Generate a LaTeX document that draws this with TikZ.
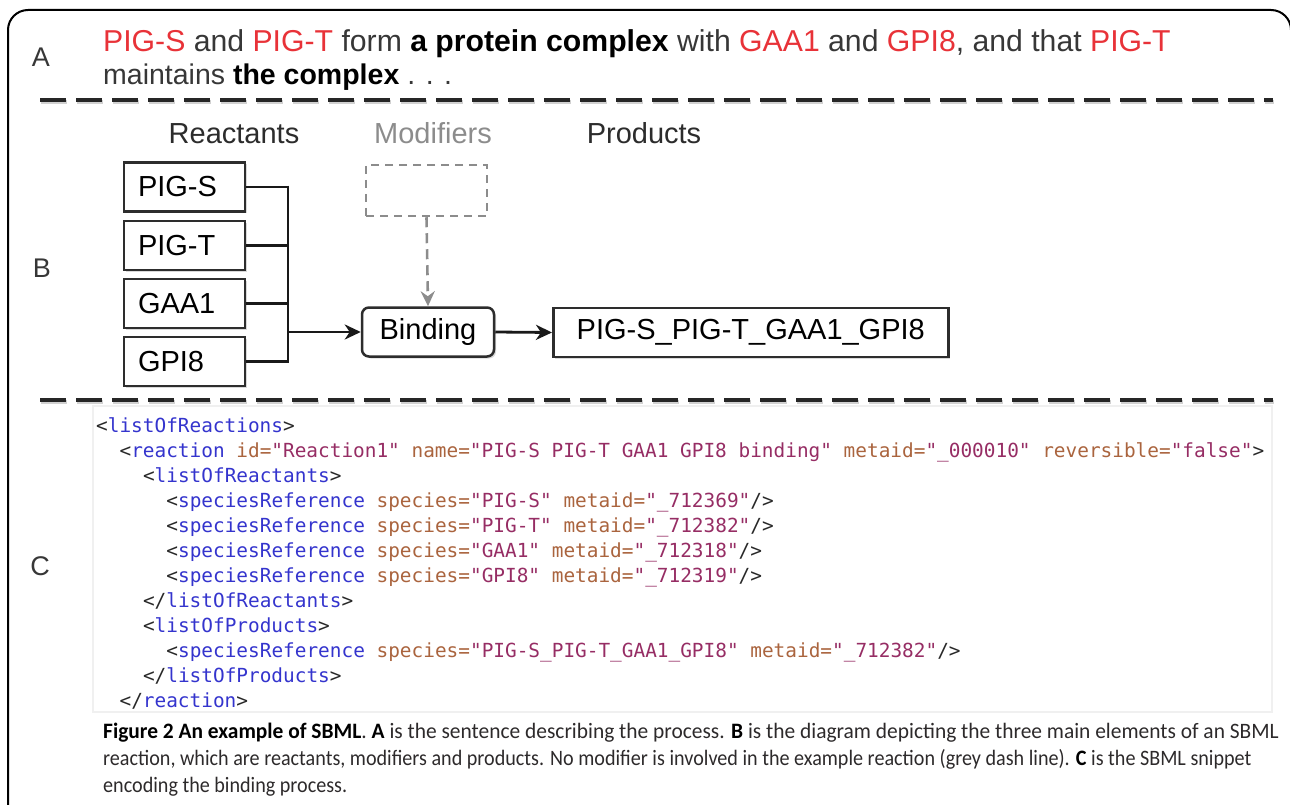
\documentclass[tikz,border=0pt]{standalone}
\usepackage{fontspec}
\setmainfont{Liberation Sans}
\newfontfamily\codefont{DejaVu Sans Mono}
\newfontfamily\capfont{Carlito}
\usetikzlibrary{arrows.meta,shadows}

\definecolor{pred}{RGB}{232,50,56}
\definecolor{ptext}{RGB}{55,55,55}
\definecolor{xtagc}{RGB}{52,52,205}
\definecolor{xattc}{RGB}{170,100,62}
\definecolor{xvalc}{RGB}{150,45,100}
\definecolor{xbrc}{RGB}{40,40,40}
\definecolor{capc}{RGB}{45,42,43}
\definecolor{boxc}{RGB}{45,45,45}
\definecolor{modc}{RGB}{140,140,140}

\newcommand\xmlT[1]{\textcolor{xtagc}{#1}}
\newcommand\xmlA[1]{\textcolor{xattc}{#1}}
\newcommand\xmlV[1]{\textcolor{xvalc}{#1}}
\newcommand\xmlB[1]{\textcolor{xbrc}{#1}}
\newcommand\pname[1]{\textcolor{pred}{#1}}
\newcommand\bk[1]{\textcolor{black}{\bfseries #1}}
\newcommand\cb[1]{\textcolor{black}{\bfseries #1}}

\tikzset{
  sep/.style={line width=4pt, draw=black!85, dash pattern=on 26pt off 10pt},
  sepshadow/.style={line width=4pt, draw=black, opacity=0.18, dash pattern=on 26pt off 10pt},
  frame/.style={line width=2pt, draw=black, rounded corners=20pt},
  lbl/.style={font=\fontsize{27}{32}\selectfont, text=ptext},
  head/.style={font=\fontsize{29}{34}\selectfont, anchor=base},
  sbox/.style={draw=boxc, line width=2.5pt, fill=white, font=\fontsize{29}{34}\selectfont,
     minimum height=49pt, inner xsep=14pt, align=left,
     drop shadow={shadow xshift=2pt, shadow yshift=-2pt, opacity=0.3}},
  rbox/.style={sbox, text width=93pt},
  modbox/.style={draw=modc, line width=2.5pt, dash pattern=on 8pt off 6pt,
     minimum width=121pt, minimum height=51pt},
  conn/.style={line width=2.8pt, draw=black!90},
  arr/.style={conn, -{Stealth[length=16pt,width=15pt,inset=5pt]}},
  modarr/.style={line width=2.6pt, draw=modc, dash pattern=on 10pt off 6pt,
     -{Stealth[length=15pt,width=14pt,inset=5pt]}},
  code/.style={font=\codefont\fontsize{19.4}{25}\selectfont, anchor=base west, inner sep=0pt},
  captext/.style={font=\capfont\fontsize{22}{27}\selectfont, text=capc, anchor=base west, inner sep=0pt},
}

\begin{document}
\begin{tikzpicture}[x=1pt,y=-1pt]
\useasboundingbox (0,0) rectangle (1290,805);
\clip (0,0) rectangle (1290,805);

% outer frame
\draw[frame] (8,810) -- (8,10) -- (1291,10) -- (1291,810);

% ---------- A ----------
\node[lbl] (labA) at (41,57) {A};
\node[anchor=base west, inner sep=0pt, font=\fontsize{30.2}{34}\selectfont, text=ptext] (aline1) at (103,52)
  {\pname{PIG-S} and \pname{PIG-T} form \bk{a protein complex} with \pname{GAA1} and \pname{GPI8}, and that \pname{PIG-T}};
\node[anchor=base west, inner sep=0pt, font=\fontsize{28.5}{34}\selectfont, text=ptext] (aline2) at (103,85)
  {maintains \bk{the complex} . . .};

% separators
\coordinate (s1a) at (40,100); \coordinate (s1b) at (1273,100);
\coordinate (s2a) at (40,400); \coordinate (s2b) at (1273,400);
\draw[sepshadow] ([shift={(1pt,-2pt)}]s1a) -- ([shift={(1pt,-2pt)}]s1b);
\draw[sep] (s1a) -- (s1b);
\draw[sepshadow] ([shift={(1pt,-2pt)}]s2a) -- ([shift={(1pt,-2pt)}]s2b);
\draw[sep] (s2a) -- (s2b);

% ---------- B ----------
\node[lbl] (labB) at (42,268) {B};
\node[head, text=ptext!80!black] (hR) at (234,144) {Reactants};
\node[head, text=modc] (hM) at (433,144) {Modifiers};
\node[head, text=ptext!80!black] (hP) at (644,144) {Products};

\node[rbox] (rS) at (184.5,187) {PIG-S};
\node[rbox] (rT) at (184.5,245.5) {PIG-T};
\node[rbox] (rA) at (184.5,303.5) {GAA1};
\node[rbox] (rG) at (184.5,361.5) {GPI8};

\node[sbox, rounded corners=7pt, minimum width=132pt, inner xsep=6pt, align=center] (bind) at (428,332) {Binding};
\node[modbox] (mod) at (426.5,190.5) {};
\node[sbox, minimum width=395pt, inner xsep=13pt, anchor=west] (prod) at (552,332.5) {PIG-S\_PIG-T\_GAA1\_GPI8};

\coordinate (bus) at (288,332);
\draw[conn] (rS.east) -- (rS.east -| bus);
\draw[conn] (rT.east) -- (rT.east -| bus);
\draw[conn] (rA.east) -- (rA.east -| bus);
\draw[conn] (rG.east) -- (rG.east -| bus);
\draw[conn] ([yshift=1.4pt]rS.east -| bus) -- ([yshift=-1.4pt]rG.east -| bus);
\draw[arr] (bus |- bind.west) -- (bind.west);
\draw[arr] (bind.east) -- (prod.west);
\draw[modarr] (mod.south) -- (bind.north);

% ---------- C ----------
\node[lbl] (labC) at (40,566) {C};
\draw[draw=black!6, line width=1.5pt] (93,406) rectangle (1272,712);

\node[code] (c1) at (96,432) {\xmlB{<}\xmlT{listOfReactions}\xmlB{>}};
\node[code] (c2) at (119.4,457) {\xmlB{<}\xmlT{reaction} \xmlA{id=}\xmlV{"Reaction1"} \xmlA{name=}\xmlV{"PIG-S PIG-T GAA1 GPI8 binding"} \xmlA{metaid=}\xmlV{"\_000010"} \xmlA{reversible=}\xmlV{"false"}\xmlB{>}};
\node[code] (c3) at (142.8,482) {\xmlB{<}\xmlT{listOfReactants}\xmlB{>}};
\node[code] (c4) at (166.2,507) {\xmlB{<}\xmlT{speciesReference} \xmlA{species=}\xmlV{"PIG-S"} \xmlA{metaid=}\xmlV{"\_712369"}\xmlB{/>}};
\node[code] (c5) at (166.2,532) {\xmlB{<}\xmlT{speciesReference} \xmlA{species=}\xmlV{"PIG-T"} \xmlA{metaid=}\xmlV{"\_712382"}\xmlB{/>}};
\node[code] (c6) at (166.2,557) {\xmlB{<}\xmlT{speciesReference} \xmlA{species=}\xmlV{"GAA1"} \xmlA{metaid=}\xmlV{"\_712318"}\xmlB{/>}};
\node[code] (c7) at (166.2,582) {\xmlB{<}\xmlT{speciesReference} \xmlA{species=}\xmlV{"GPI8"} \xmlA{metaid=}\xmlV{"\_712319"}\xmlB{/>}};
\node[code] (c8) at (142.8,607) {\xmlB{</}\xmlT{listOfReactants}\xmlB{>}};
\node[code] (c9) at (142.8,632) {\xmlB{<}\xmlT{listOfProducts}\xmlB{>}};
\node[code] (c10) at (166.2,657) {\xmlB{<}\xmlT{speciesReference} \xmlA{species=}\xmlV{"PIG-S\_PIG-T\_GAA1\_GPI8"} \xmlA{metaid=}\xmlV{"\_712382"}\xmlB{/>}};
\node[code] (c11) at (142.8,682) {\xmlB{</}\xmlT{listOfProducts}\xmlB{>}};
\node[code] (c12) at (119.4,707) {\xmlB{</}\xmlT{reaction}\xmlB{>}};

% ---------- caption ----------
\node[captext] (cap1) at (103,738) {\scalebox{0.974}[1]{\cb{Figure 2 An example of SBML}. \cb{A} is the sentence describing the process. \cb{B} is the diagram depicting the three main elements of an SBML}};
\node[captext] (cap2) at (103,765) {\scalebox{0.915}[1]{reaction, which are reactants, modifiers and products. No modifier is involved in the example reaction (grey dash line). \cb{C} is the SBML snippet}};
\node[captext] (cap3) at (103,792) {\scalebox{0.915}[1]{encoding the binding process.}};
\end{tikzpicture}
\end{document}
